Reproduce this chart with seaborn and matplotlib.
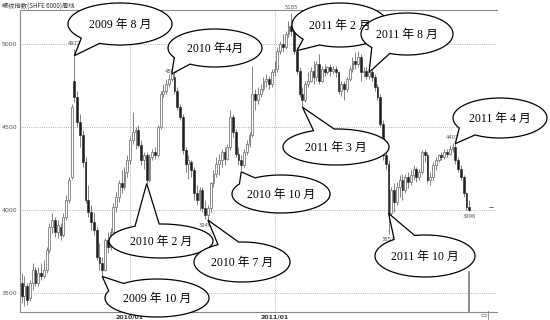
import numpy as np
import pandas as pd
import matplotlib
matplotlib.use("Agg")
import matplotlib.pyplot as plt
import matplotlib.dates as mdates
from matplotlib.patches import Polygon
import seaborn as sns

# ---------------- data (weekly OHLC) ----------------
opens = [3560, 3480, 3540, 3470, 3560, 3640, 3560, 3620, 3600, 3640,
         3760, 3900, 3940, 3870, 3900, 3850, 3960, 4060, 4200, 4780,
         4680, 4530, 4450, 4290, 4060, 3990, 3930, 3880, 3720, 3680,
         3640, 3820, 3780, 3870, 4020, 4080, 4160, 4140, 4230, 4300,
         4420, 4470, 4480, 4390, 4300, 4330, 4180, 4320, 4350, 4330,
         4500, 4700, 4720, 4760, 4790, 4800, 4720, 4620, 4560, 4360,
         4280, 4290, 4240, 4100, 4060, 4120, 4010, 3970, 4010, 4160,
         4220, 4280, 4300, 4350, 4310, 4380, 4560, 4470, 4340, 4300,
         4270, 4350, 4400, 4450, 4700, 4660, 4700, 4730, 4780, 4790,
         4760, 4830, 4850, 4960, 5000, 4980, 5060, 5110, 5080, 4960,
         4840, 4700, 4660, 4760, 4780, 4840, 4800, 4880, 4780, 4850,
         4830, 4860, 4840, 4850, 4830, 4720, 4760, 4730, 4790, 4850,
         4900, 4880, 4920, 4830, 4840, 4810, 4830, 4800, 4740, 4680,
         4520, 4330, 4280, 3980, 4120, 4050, 4140, 4180, 4120, 4200,
         4170, 4210, 4250, 4200, 4230, 4350, 4330, 4180, 4200, 4270,
         4300, 4330, 4320, 4350, 4340, 4370, 4380, 4300, 4250, 4200,
         4100, 4020]
closes = [3480, 3540, 3460, 3560, 3640, 3560, 3620, 3600, 3640, 3760,
          3900, 3940, 3870, 3910, 3850, 3960, 4060, 4180, 4620, 4680,
          4530, 4450, 4290, 4060, 3990, 3930, 3880, 3720, 3680, 3640,
          3820, 3780, 3870, 4020, 4080, 4160, 4140, 4230, 4300, 4420,
          4470, 4480, 4390, 4300, 4330, 4180, 4320, 4350, 4330, 4500,
          4700, 4720, 4760, 4790, 4820, 4720, 4620, 4560, 4360, 4280,
          4300, 4240, 4100, 4060, 4120, 4010, 3970, 4010, 4160, 4220,
          4280, 4300, 4350, 4310, 4380, 4560, 4470, 4340, 4300, 4270,
          4350, 4400, 4450, 4700, 4660, 4700, 4730, 4780, 4790, 4760,
          4830, 4850, 4960, 5000, 4980, 5060, 5110, 5080, 4960, 4840,
          4700, 4660, 4760, 4780, 4840, 4800, 4880, 4780, 4850, 4830,
          4860, 4840, 4850, 4830, 4720, 4760, 4730, 4790, 4850, 4900,
          4880, 4920, 4830, 4840, 4810, 4830, 4800, 4740, 4680, 4520,
          4330, 4280, 3980, 4120, 4050, 4140, 4180, 4120, 4200, 4170,
          4210, 4250, 4200, 4230, 4350, 4330, 4180, 4200, 4270, 4300,
          4330, 4320, 4350, 4340, 4370, 4380, 4300, 4250, 4200, 4100,
          4020, 4000]
highs = [3620, 3600, 3560, 3580, 3680, 3660, 3660, 3680, 3700, 3780,
         3920, 3980, 3960, 3940, 3920, 3980, 4090, 4200, 4640, 4972,
         4720, 4580, 4480, 4320, 4150, 4030, 3990, 3900, 3800, 3720,
         3830, 3870, 3890, 4040, 4110, 4180, 4240, 4260, 4330, 4440,
         4590, 4500, 4510, 4420, 4350, 4350, 4340, 4370, 4380, 4510,
         4720, 4760, 4790, 4820, 4843, 4830, 4740, 4640, 4580, 4380,
         4330, 4300, 4260, 4150, 4140, 4140, 4060, 4030, 4170, 4240,
         4320, 4340, 4370, 4380, 4400, 4600, 4580, 4490, 4380, 4330,
         4370, 4420, 4470, 4870, 4730, 4740, 4760, 4800, 4820, 4810,
         4850, 4900, 4980, 5020, 5060, 5080, 5140, 5185, 5100, 4980,
         4860, 4740, 4780, 4830, 4860, 4900, 4900, 4940, 4870, 4880,
         4870, 4880, 4870, 4870, 4840, 4780, 4780, 4800, 4870, 4920,
         4950, 4960, 4940, 4860, 4860, 4850, 4850, 4820, 4760, 4700,
         4540, 4360, 4300, 4140, 4160, 4170, 4210, 4220, 4220, 4230,
         4240, 4270, 4260, 4250, 4360, 4370, 4350, 4230, 4290, 4320,
         4340, 4350, 4370, 4370, 4390, 4402, 4402, 4320, 4270, 4210,
         4110, 4060]
lows = [3440, 3420, 3430, 3450, 3520, 3540, 3540, 3580, 3590, 3620,
        3740, 3860, 3840, 3830, 3820, 3840, 3940, 4040, 4190, 4650,
        4500, 4380, 4260, 4040, 3960, 3880, 3850, 3700, 3640, 3600,
        3630, 3740, 3760, 3850, 3990, 4050, 4100, 4120, 4200, 4280,
        4400, 4370, 4380, 4270, 4250, 4160, 4170, 4300, 4310, 4320,
        4490, 4680, 4700, 4740, 4780, 4700, 4600, 4540, 4340, 4230,
        4190, 4200, 4060, 4030, 4000, 3990, 3945, 3940, 3990, 4140,
        4200, 4210, 4260, 4270, 4300, 4360, 4440, 4320, 4270, 4240,
        4260, 4330, 4380, 4440, 4600, 4640, 4680, 4720, 4740, 4730,
        4740, 4810, 4830, 4940, 4950, 4970, 5040, 5050, 4940, 4820,
        4680, 4620, 4650, 4740, 4770, 4760, 4780, 4760, 4770, 4810,
        4820, 4810, 4820, 4800, 4700, 4690, 4660, 4710, 4780, 4830,
        4850, 4860, 4780, 4800, 4790, 4790, 4780, 4720, 4660, 4500,
        4300, 4250, 3857, 3900, 3990, 4030, 4080, 4060, 4100, 4130,
        4150, 4180, 4170, 4180, 4220, 4290, 4160, 4150, 4180, 4240,
        4290, 4300, 4310, 4320, 4330, 4350, 4280, 4230, 4180, 4080,
        4000, 3996]

y_ticks = [3500, 4000, 4500, 5000]
x_tick_dates = ["2010-01-01", "2011-01-01"]
x_tick_labels = ["2010/01", "2011/01"]
title_text = "螺纹指数(SHFE 6000)周线"

# extreme-value labels: (candle index, value, 'high'/'low')
ext_idx = [19, 54, 66, 97, 132, 155, 161]
ext_val = [4972, 4803, 3940, 5185, 3857, 4402, 3996]
ext_kind = ["high", "high", "low", "high", "low", "high", "low"]

# callouts: text, bubble centre (px), half-axes (px), base angles (deg), tip candle idx, tip price
bub_text = ["2009 年 8 月", "2010 年4月", "2011 年 2 月", "2011 年 8 月", "2011 年 3 月",
            "2011 年 4 月", "2010 年 10 月", "2010 年 2 月", "2010 年 7 月",
            "2011 年 10 月", "2009 年 10 月"]
bub_tip_idx = [19, 54, 99, 125, 101, 156, 79, 45, 67, 132, 29]
bub_tip_val = [4930, 4820, 4960, 4830, 4620, 4400, 4230, 4160, 3940, 3980, 3600]
bub_cx = [120, 215, 340, 407, 336, 500, 281, 161, 242, 425, 157]
bub_cy = [24, 48, 25, 34, 147, 118, 194, 241, 262, 256, 298]
bub_a = [52, 47, 48, 46, 53, 47, 49, 52, 48, 50, 52]
bub_b = [21, 19, 22, 21, 18, 20, 19, 17, 20, 21, 19]
bub_t1 = [113, 122, 115, 112, 245, 122, 212, 240, 240, 232, 202]
bub_t2 = [138, 150, 140, 140, 268, 150, 238, 268, 266, 258, 230]

# ---------------- figure ----------------
sns.set_theme(style="white")
plt.rcParams["font.family"] = ["Liberation Serif", "Noto Sans CJK SC", "DejaVu Sans"]

W, H = 550, 320
fig = plt.figure(figsize=(W / 100, H / 100), dpi=100)
L, R, B, T = 20, 497, 312, 10
ax = fig.add_axes([L / W, 1 - B / H, (R - L) / W, (B - T) / H])

dates = pd.date_range("2009-04-03", periods=len(closes), freq="W-FRI")
xd = mdates.date2num(dates)
o = np.array(opens, float)
c = np.array(closes, float)
h = np.array(highs, float)
l = np.array(lows, float)
up = c >= o

ax.vlines(xd, l, h, color="#6e6e6e", lw=0.6, zorder=2)
ax.bar(xd[up], (c - o)[up], bottom=o[up], width=4.6, color="white",
       edgecolor="#7a7a7a", lw=0.6, zorder=3)
ax.bar(xd[~up], (o - c)[~up], bottom=c[~up], width=4.6, color="#1e1e1e",
       edgecolor="#1e1e1e", lw=0.4, zorder=3)

x0 = mdates.date2num(pd.Timestamp("2009-03-30"))
x1 = mdates.date2num(pd.Timestamp("2012-07-13"))
ax.set_xlim(x0, x1)
ax.set_ylim(3386, 5205)

ax.set_yticks(y_ticks)
ax.set_yticklabels([str(v) for v in y_ticks], fontsize=4.5, color="#555555",
                   family="DejaVu Sans")
ax.set_xticks(mdates.date2num(pd.to_datetime(x_tick_dates)))
ax.set_xticklabels(x_tick_labels, fontsize=4.5, color="#333333",
                   family="DejaVu Sans", fontweight="bold")
ax.tick_params(axis="both", length=0, pad=2)
ax.grid(True, linestyle=(0, (1, 1.6)), color="#9a9a9a", lw=0.6)
sns.despine(ax=ax, top=False, right=True)
for s in ["left", "bottom", "top"]:
    ax.spines[s].set_color("#8a8a8a")
    ax.spines[s].set_linewidth(0.8)

# current-position marker line and last-price dash
ax.axvline(xd[-1], ymin=0, ymax=(3627 - 3386) / (5205 - 3386), color="#8c8c8c", lw=1.4, zorder=4)
ax.plot([xd[-1] + 50, xd[-1] + 60], [closes[-1] + 20] * 2, color="#555555", lw=0.6)

# extreme labels
for i, v, k in zip(ext_idx, ext_val, ext_kind):
    if k == "high":
        ax.text(xd[i], v + 18, str(v), fontsize=3.8, color="#555555", ha="center",
                va="bottom", family="DejaVu Sans")
    else:
        ax.text(xd[i], v - 20, str(v), fontsize=3.8, color="#555555", ha="center",
                va="top", family="DejaVu Sans")

fig.text(2 / W, 1 - 3 / H, title_text, fontsize=4.5, color="#333333", va="top",
         family=["Noto Sans CJK SC", "DejaVu Sans"])

# ---------------- callouts ----------------
fig.canvas.draw()
ov = fig.add_axes([0, 0, 1, 1], zorder=10)
ov.set_xlim(0, W)
ov.set_ylim(H, 0)
ov.axis("off")
ov.patch.set_alpha(0)

for k in range(len(bub_text)):
    tx, ty = ax.transData.transform((xd[bub_tip_idx[k]], bub_tip_val[k]))
    ty = H - ty
    cx, cy, a, b = bub_cx[k], bub_cy[k], bub_a[k], bub_b[k]
    t1, t2 = np.radians(bub_t1[k]), np.radians(bub_t2[k])
    ts = np.linspace(t2, t1 + 2 * np.pi, 200)
    pts = [(cx + a * np.cos(t), cy + b * np.sin(t)) for t in ts]
    pts.append((tx, ty))
    poly = Polygon(pts, closed=True, facecolor="white", edgecolor="black", lw=0.9)
    ov.add_patch(poly)
    ov.text(cx, cy + 1, bub_text[k], fontsize=8.5, ha="center", va="center", color="black")

# end-arrow icon at bottom right
ov.text(486, 315, "⇨|", fontsize=6, color="#777777", ha="center", va="center",
        family="DejaVu Sans")

fig.savefig("out.png", dpi=100, facecolor="white")
